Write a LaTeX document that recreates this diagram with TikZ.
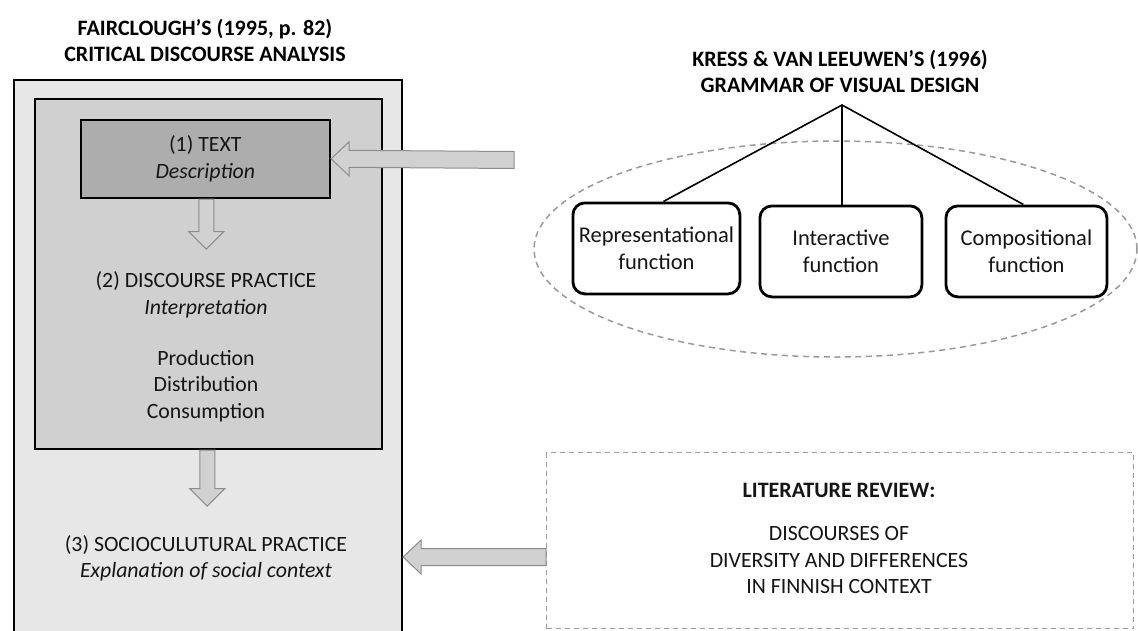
\documentclass[tikz,border=0pt]{standalone}
\usepackage{fontspec}
\setmainfont{Carlito}
\usetikzlibrary{calc,shapes.geometric}
\definecolor{outerfill}{HTML}{E7E7E7}
\definecolor{innerfill}{HTML}{D1D0D0}
\definecolor{textfill}{HTML}{AEADAD}
\definecolor{arrowfill}{HTML}{D2D1D1}
\definecolor{arrowline}{HTML}{8C8C8C}
\definecolor{dashgray}{HTML}{9A9A9A}
\definecolor{ink}{HTML}{151515}
\tikzset{
  base/.style={font=\fontsize{21.8}{26.5}\selectfont, text=ink, align=center},
  framebox/.style={draw=black, line width=2.6pt, inner sep=0pt, anchor=north west},
  funcbox/.style={base, font=\fontsize{22.5}{26.5}\selectfont, draw=black, line width=2.8pt, rounded corners=12pt, fill=white, inner sep=0pt, anchor=north west},
  titletext/.style={base, font=\fontsize{22}{26}\selectfont\bfseries, text=black},
  barrow/.style={fill=arrowfill, draw=arrowline, line width=1pt, line join=miter},
  treeline/.style={draw=black, line width=1.6pt},
}
% horizontal block arrow pointing left: #1 tip, #2 tail (shaft centre)
\newcommand\leftblockarrow[2]{%
  \draw[barrow] (#1) -- ($(#1)+(18,-17)$) -- ($(#1)+(18,-8.5)$) -- ($(#2)+(0,-8.5)$)
    -- ($(#2)+(0,8.5)$) -- ($(#1)+(18,8.5)$) -- ($(#1)+(18,17)$) -- cycle;}
% vertical block arrow pointing down: #1 tail (shaft centre), #2 tip
\newcommand\downblockarrow[2]{%
  \draw[barrow] ($(#1)+(-7.5,0)$) -- ($(#2)+(-7.5,-17.5)$) -- ($(#2)+(-17.5,-17.5)$) -- (#2)
    -- ($(#2)+(17.5,-17.5)$) -- ($(#2)+(7.5,-17.5)$) -- ($(#1)+(7.5,0)$) -- cycle;}
\begin{document}
\begin{tikzpicture}[x=1pt,y=-1pt]
\useasboundingbox (0,0) rectangle (1138,630);
\clip (0,0) rectangle (1138,630);
\fill[white] (0,0) rectangle (1138,630);

% ---- Fairclough model ----
\node[titletext] (ftitle) at (205,40) {FAIRCLOUGH’S (1995, p. 82)\\CRITICAL DISCOURSE ANALYSIS};
\node[framebox, fill=outerfill, minimum width=388pt, minimum height=580pt] (outer) at (12.5,78.5) {};
\node[framebox, fill=innerfill, minimum width=347pt, minimum height=350pt] (inner) at (33.5,97.5) {};
\node[framebox, fill=textfill, minimum width=249pt, minimum height=78pt] (textbox) at (79.5,118.5) {};
\node[base] (textlbl) at (textbox.center) {(1) TEXT\\\textit{Description}};
\node[base] (dp) at (206,295) {(2) DISCOURSE PRACTICE\\\textit{Interpretation}};
\node[base] (pdc) at (206,386) {Production\\Distribution\\Consumption};
\node[base] (sp) at (206,558.5) {(3) SOCIOCULUTURAL PRACTICE\\\textit{Explanation of social context}};

\coordinate (a1s) at ($(textbox.south)+(1,0)$);
\coordinate (a1t) at ($(a1s)+(0,50)$);
\downblockarrow{a1s}{a1t}
\coordinate (a2s) at ($(inner.south)+(-1,0)$);
\coordinate (a2t) at ($(a2s)+(0,56)$);
\downblockarrow{a2s}{a2t}

% ---- Kress & van Leeuwen ----
\node[titletext] (ktitle) at (840,71) {KRESS \& VAN LEEUWEN’S (1996)\\GRAMMAR OF VISUAL DESIGN};
\coordinate (apex) at (842,105);
\node[draw=dashgray, dash pattern=on 6pt off 4.5pt, line width=1.5pt, ellipse,
      minimum width=603pt, minimum height=216pt, inner sep=0pt] (kvl) at (835.5,249) {};
\node[funcbox, minimum width=167pt, minimum height=91pt] (rep) at (571.5,201.5) {Representational\\function};
\node[funcbox, minimum width=162pt, minimum height=91pt] (int) at (758.5,204.5) {Interactive\\function};
\node[funcbox, minimum width=161pt, minimum height=91pt] (comp) at (944.5,204.5) {Compositional\\function};
\draw[treeline] ($(rep.north)+(7,0)$) -- (apex) -- ($(comp.north)+(-3,0)$);
\draw[treeline] (apex) -- (apex |- int.north);

% ---- Literature review ----
\node[draw=dashgray, dash pattern=on 5pt off 4pt, line width=1.2pt, inner sep=0pt, anchor=north west,
      minimum width=587pt, minimum height=176pt] (lit) at (546,452) {};
\node[base, font=\fontsize{22}{26.5}\selectfont\bfseries] (littitle) at (839,490) {LITERATURE REVIEW:};
\node[base] (littext) at (839,560) {DISCOURSES OF\\DIVERSITY AND DIFFERENCES\\IN FINNISH CONTEXT};

% ---- block arrows into the model ----
\coordinate (kvltail) at (514,160);
\leftblockarrow{textbox.east}{kvltail}
\coordinate (yline) at (0,557);
\coordinate (littip) at (outer.east |- yline);
\coordinate (littail) at (lit.west |- yline);
\leftblockarrow{littip}{littail}
\end{tikzpicture}
\end{document}
